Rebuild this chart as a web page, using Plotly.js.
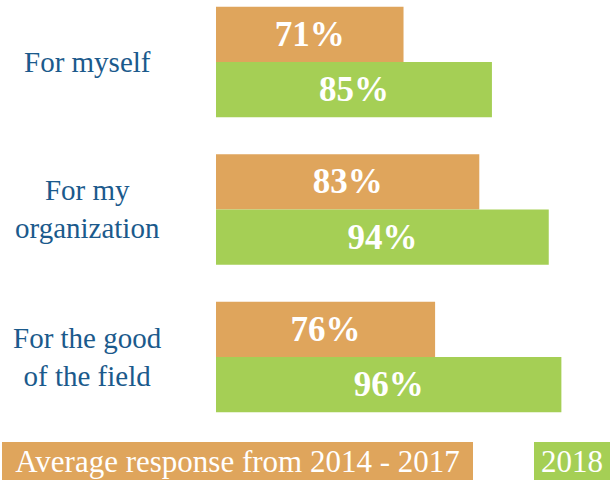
<!DOCTYPE html>
<html>
<head>
<meta charset="utf-8">
<script src="https://cdn.plot.ly/plotly-3.0.1.min.js"></script>
<style>html,body{margin:0;padding:0;background:#fff;}#chart{width:610px;height:480px;}</style>
</head>
<body>
<div id="chart"></div>
<script>
const categories = ["For myself", "For my organization", "For the good of the field"];
const categoryLabels = ["For myself", "For my<br>organization", "For the good<br>of the field"];
const seriesNames = ["Average response from 2014 - 2017", "2018"];
const avg2014to2017 = [71, 83, 76];
const values2018 = [85, 94, 96];

// The reference's value axis is truncated: bars start at this value
const AXIS_START = 41.3;
const AXIS_END = 103.7;

const orange = "#DFA55C";
const green = "#A5CF55";
const labelBlue = "#1B5A8C";
const serif = "'Liberation Serif', 'Times New Roman', serif";

const barText = {family: serif, size: 35, color: "#ffffff", weight: "bold"};

function barTrace(name, vals, color) {
  return {
    type: "bar", orientation: "h", name: name, y: categories,
    base: AXIS_START, x: vals.map(v => v - AXIS_START), customdata: vals,
    marker: {color: color}, texttemplate: "%{customdata}%", textposition: "inside",
    insidetextanchor: "middle", textfont: barText, hoverinfo: "skip"
  };
}

const traces = [
  barTrace(seriesNames[0], avg2014to2017, orange),
  barTrace(seriesNames[1], values2018, green)
];

const annotations = categories.map((c, i) => ({
  xref: "paper", yref: "y", x: -0.327, y: c, xanchor: "center", yanchor: "middle",
  text: categoryLabels[i], showarrow: false, align: "center",
  font: {family: serif, size: 29, color: labelBlue}
}));

annotations.push({
  xref: "paper", yref: "paper", x: -0.5431, y: -0.0976, xanchor: "left", yanchor: "middle",
  text: seriesNames[0], showarrow: false, bgcolor: orange, width: 471, height: 38,
  borderpad: 0, borderwidth: 0, align: "center", valign: "middle",
  font: {family: serif, size: 31, color: "#ffffff"}
});
annotations.push({
  xref: "paper", yref: "paper", x: 0.8071, y: -0.0976, xanchor: "left", yanchor: "middle",
  text: seriesNames[1], showarrow: false, bgcolor: green, width: 76, height: 38,
  borderpad: 0, borderwidth: 0, align: "center", valign: "middle",
  font: {family: serif, size: 31, color: "#ffffff"}
});

const layout = {
  width: 610, height: 480,
  margin: {l: 216, r: 0, t: 0, b: 60, pad: 0},
  paper_bgcolor: "#ffffff", plot_bgcolor: "#ffffff",
  barmode: "group", bargap: 0.25, bargroupgap: 0,
  showlegend: false,
  xaxis: {range: [AXIS_START, AXIS_END], visible: false, showgrid: false, zeroline: false, fixedrange: true},
  yaxis: {type: "category", range: [2.427, -0.42], showticklabels: false, showgrid: false,
          zeroline: false, showline: false, ticks: "", fixedrange: true},
  annotations: annotations
};

Plotly.newPlot("chart", traces, layout, {displayModeBar: false, staticPlot: true});
</script>
</body>
</html>
